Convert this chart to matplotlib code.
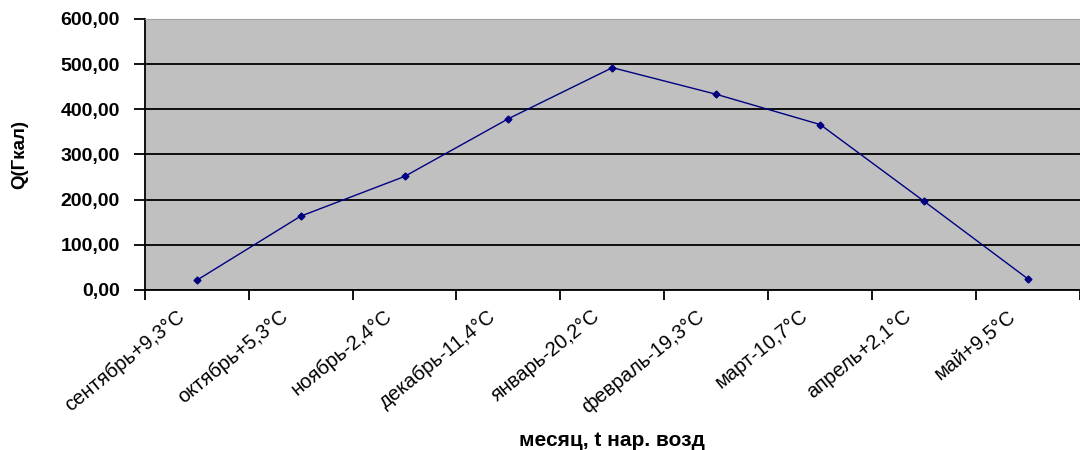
import numpy as np
import matplotlib
matplotlib.use("Agg")
from matplotlib import pyplot as plt

months = ["сентябрь+9,3°С", "октябрь+5,3°С", "ноябрь-2,4°С", "декабрь-11,4°С",
          "январь-20,2°С", "февраль-19,3°С", "март-10,7°С", "апрель+2,1°С", "май+9,5°С"]
q_values = [21, 163, 251, 379, 492, 433, 366, 196, 24]
y_ticks = [0, 100, 200, 300, 400, 500, 600]

plt.rcParams['font.family'] = ['Liberation Sans', 'DejaVu Sans']

fig = plt.figure(figsize=(10.8, 4.5), dpi=100)
ax = fig.add_axes([0.134, 0.356, 0.866, 0.602])

x = np.arange(len(months))
ax.set_facecolor('#c0c0c0')
ax.plot(x, q_values, color='#000080', lw=1.0, marker='D', markersize=3.5, zorder=3)

ax.set_xlim(-0.5, len(months) - 0.5)
ax.set_ylim(0, 600)
ax.set_yticks(y_ticks)
ax.set_yticklabels([f"{v:.2f}".replace('.', ',') for v in y_ticks],
                   fontsize=14, fontweight='bold')
ax.yaxis.grid(True, color='black', lw=1.3)
ax.set_axisbelow(True)

# labels sit a bit left of the category centre, like in Excel
ax.set_xticks(x - 0.2)
ax.set_xticklabels(months, rotation=39, ha='right', rotation_mode='anchor', fontsize=14.5)
ax.set_xticks(np.arange(len(months) + 1) - 0.5, minor=True)
ax.tick_params(axis='x', which='major', length=0, pad=12)
ax.tick_params(axis='x', which='minor', length=7, width=1.3, direction='out')
ax.tick_params(axis='y', length=8, width=1.3, direction='out', pad=10)

for side in ['top', 'right']:
    ax.spines[side].set_color('#a0a0a0')
    ax.spines[side].set_linewidth(0.8)
ax.spines['left'].set_linewidth(1.3)
ax.spines['bottom'].set_linewidth(1.3)

ax.set_ylabel("Q(Гкал)", fontsize=13.5, fontweight='bold')
ax.yaxis.set_label_coords(-0.125, 0.5)
ax.set_xlabel("месяц, t нар. возд", fontsize=15, fontweight='bold', va='top')
ax.xaxis.set_label_coords(0.5, -0.52)

fig.savefig("out.png", dpi=100)
